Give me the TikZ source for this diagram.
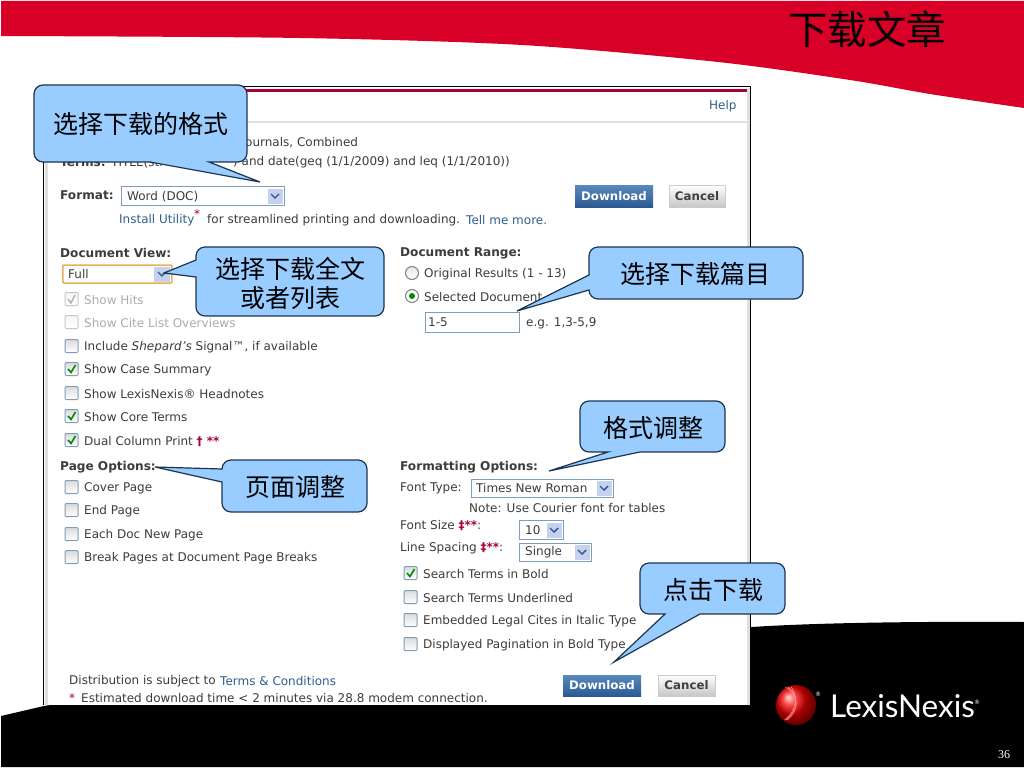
\documentclass[tikz,border=0pt]{standalone}
\usepackage{fontspec}
\setmainfont{DejaVu Sans}
\newfontfamily\cjk{Noto Sans CJK SC}
\newfontfamily\logofont{Lato}
\newfontfamily\numfont{Liberation Serif}
\definecolor{slidered}{HTML}{D80027}
\definecolor{calloutblue}{HTML}{99CCFF}
\definecolor{calloutline}{HTML}{1C3550}
\definecolor{webtext}{HTML}{3C3C3C}
\definecolor{weblink}{HTML}{2F5F8F}
\definecolor{webgrey}{HTML}{ABABAB}
\definecolor{webred}{HTML}{A80038}
\definecolor{boxline}{HTML}{7F9DB9}
\definecolor{viewline}{HTML}{E3B35C}
\definecolor{btntop}{HTML}{5A8ABB}
\definecolor{btnbot}{HTML}{2A5A92}
\definecolor{selfill}{HTML}{C4D2F0}
\definecolor{chevblue}{HTML}{34508C}
\tikzset{
  txt/.style={anchor=west,inner sep=0pt,yshift=-0.3pt,text=webtext,font=\fontsize{12}{14}\selectfont},
  boldtxt/.style={txt,font=\fontsize{12.1}{14}\selectfont\bfseries},
  linktxt/.style={txt,text=weblink},
  greytxt/.style={txt,text=webgrey},
  redtxt/.style={txt,text=webred},
  chkbox/.style={draw=boxline,line width=1pt,rounded corners=1pt,minimum size=13pt,inner sep=0pt,top color=black!14,bottom color=white},
  greybox/.style={chkbox,draw=black!22,top color=black!4,bottom color=white},
  tick/.style={draw=green!55!black,line width=1.6pt},
  selbox/.style={draw=boxline,fill=white,inner sep=0pt,line width=.8pt},
  selbtn/.style={fill=selfill,inner sep=0pt,minimum width=15pt,minimum height=15pt},
  chevron/.style={draw=chevblue,line width=1.4pt},
  callout/.style={draw=calloutline,fill=calloutblue,line width=1.2pt,line join=miter},
  calltxt/.style={align=center,inner sep=0pt,font=\cjk\fontsize{25}{29}\selectfont},
  bluebtn/.style={inner sep=0pt,top color=btntop,bottom color=btnbot,text=white,font=\fontsize{11.8}{13}\selectfont\bfseries},
  greybtn/.style={draw=black!20,inner sep=0pt,top color=white,bottom color=black!22,text=black!75,font=\fontsize{11.8}{13}\selectfont\bfseries}
}
\begin{document}
\begin{tikzpicture}[x=1pt,y=-1pt]
	\useasboundingbox (0,0) rectangle (1024,768);
	\fill[white] (0,0) rectangle (1024,768);
	% slide background
	\fill[slidered] (1,1) -- (1024,1) -- (1024,108) -- plot[smooth] coordinates {(1024,108) (930,94) (850,80) (718,62) (522,45) (300,38) (1,36)} -- cycle;
	\fill[black] (1,767) -- (1,716) -- (44,706) -- plot[smooth] coordinates {(44,706) (300,670) (752,627) (1024,622)} -- (1024,767) -- cycle;
	\node[inner sep=0pt,font=\cjk\fontsize{39.5}{41}\selectfont] (title) at (867,29) {下载文章};
	% screenshot
	\fill[white] (44,87) rectangle (750,705);
	\fill[black!12] (45,88) rectangle (48,705);
	\fill[black!12] (747,88) rectangle (750,705);
	\draw[line width=1.6pt] (43.5,705) -- (43.5,86.5) -- (750.5,86.5) -- (750.5,705);
	\fill[webred] (48,89) rectangle (747,91.5);
	\fill[black!12] (48,121) rectangle (747,123);
	\node[linktxt] (help) at (709,106) {Help};
	\node[txt] (source) at (245,142) {ournals, Combined};
	\node[boldtxt] (terms) at (60,162) {Terms:};
	\node[txt] (termsa) at (111,162) {TITLE(sti};
	\node[txt] (termsb) at (233,162) {) and date(geq (1/1/2009) and leq (1/1/2010))};
	% format row
	\node[boldtxt] (format) at (60,195) {Format:};
	\node[selbox,minimum width=163pt,minimum height=19pt,anchor=west] (formatbox) at (121,196) {};
	\node[txt] (formatval) at (127,196) {Word (DOC)};
	\node[selbtn] (formatbtn) at (275,196) {};
	\draw[chevron] (271,194) -- (275,198) -- (279,194);
	\node[bluebtn,minimum width=78pt,minimum height=22pt] (dltop) at (614,196) {Download};
	\node[greybtn,minimum width=56pt,minimum height=22pt] (canceltop) at (697,196) {Cancel};
	\node[linktxt] (install) at (119,220) {Install Utility};
	\node[redtxt] (star) at (194,214) {*};
	\node[txt] (stream) at (207,220) {for streamlined printing and downloading.};
	\node[linktxt] (tell) at (466,220) {Tell me more.};
	% left column
	\node[boldtxt] (docview) at (60,253) {Document View:};
	\node[draw=viewline,fill=white,line width=1.5pt,rounded corners=1pt,inner sep=0pt,minimum width=109pt,minimum height=18pt,anchor=west] (viewbox) at (62,274) {};
	\node[txt] (viewval) at (68,274) {Full};
	\node[selbtn,minimum width=16pt] (viewbtn) at (162,274) {};
	\draw[chevron] (158,272) -- (162,276) -- (166,272);
	\node[greybox] (hitsbox) at (71.5,299) {};
	\draw[draw=black!30,line width=1.4pt] (68,299) -- (71,303) -- (75,295);
	\node[greytxt] (hits) at (84,300) {Show Hits};
	\node[greybox] (citebox) at (71.5,322) {};
	\node[greytxt] (cite) at (84,323) {Show Cite List Overviews};
	\foreach \y/\name/\label in {
		347/shepard/{Include \textit{Shepard's} Signal™, if available},
		370/summary/{Show Case Summary},
		394/headnote/{Show LexisNexis® Headnotes},
		417/core/{Show Core Terms},
		441/dual/{Dual Column Print \textcolor{webred}{\bfseries† **}},
		488/cover/{Cover Page},
		511/endp/{End Page},
		535/eachdoc/{Each Doc New Page},
		558/breakp/{Break Pages at Document Page Breaks}}
	{
		\node[chkbox] (\name box) at (71.5,\y-1) {};
		\node[txt] (\name) at (84,\y) {\label};
	}
	\foreach \y in {369,416,440}
		\draw[tick] (68,\y) -- (71,\y+3.5) -- (75.5,\y-4);
	\node[boldtxt] (pageopts) at (60,467) {Page Options:};
	% right column
	\node[boldtxt] (docrange) at (400,253) {Document Range:};
	\node[circle,draw=black!45,line width=1.2pt,top color=black!10,bottom color=white,minimum size=13pt,inner sep=0pt] (radioa) at (412,273) {};
	\node[txt] (original) at (424,274) {Original Results (1 - 13)};
	\node[circle,draw=black!45,line width=1.2pt,fill=white,minimum size=13pt,inner sep=0pt] (radiob) at (412,296) {};
	\fill[green!55!black] (radiob) circle (3pt);
	\node[txt] (selected) at (424,297) {Selected Document};
	\node[selbox,minimum width=94pt,minimum height=20pt,anchor=west] (rangebox) at (425,322) {};
	\node[txt] (rangeval) at (428,322) {1-5};
	\node[txt] (example) at (526,323) {e.g. 1,3-5,9};
	\node[boldtxt] (fmtopts) at (400,467) {Formatting Options:};
	\node[txt] (fonttype) at (400,488) {Font Type:};
	\node[selbox,minimum width=142pt,minimum height=18pt,anchor=west] (typebox) at (471,488) {};
	\node[txt] (typeval) at (476,488) {Times New Roman};
	\node[selbtn] (typebtn) at (604,488) {};
	\draw[chevron] (600,486) -- (604,490) -- (608,486);
	\node[txt] (note) at (469,508) {Note: Use Courier font for tables};
	\node[txt] (fontsize) at (400,525) {Font Size \textcolor{webred}{\bfseries‡**}:};
	\node[selbox,minimum width=44pt,minimum height=19pt,anchor=west] (sizebox) at (519,530) {};
	\node[txt] (sizeval) at (525,530) {10};
	\node[selbtn] (sizebtn) at (554,530) {};
	\draw[chevron] (550,528) -- (554,532) -- (558,528);
	\node[txt] (spacing) at (400,548) {Line Spacing \textcolor{webred}{\bfseries‡**}:};
	\node[selbox,minimum width=72pt,minimum height=18pt,anchor=west] (spacebox) at (519,552) {};
	\node[txt] (spaceval) at (525,552) {Single};
	\node[selbtn] (spacebtn) at (582,552) {};
	\draw[chevron] (578,550) -- (582,554) -- (586,550);
	\foreach \y/\name/\label in {
		574/boldterms/{Search Terms in Bold},
		598/underline/{Search Terms Underlined},
		621/italic/{Embedded Legal Cites in Italic Type},
		645/pagination/{Displayed Pagination in Bold Type}}
	{
		\node[chkbox] (\name box) at (410.5,\y-1) {};
		\node[txt] (\name) at (423,\y) {\label};
	}
	\draw[tick] (407,573) -- (410,576.5) -- (414.5,569);
	% footer of the screenshot
	\node[txt] (distrib) at (69,681) {Distribution is subject to};
	\node[linktxt] (conditions) at (220,681) {Terms \& Conditions};
	\node[redtxt] (footstar) at (69,698) {*};
	\node[txt] (estimate) at (81,698) {Estimated download time < 2 minutes via 28.8 modem connection.};
	\node[bluebtn,minimum width=78pt,minimum height=21pt] (dlbottom) at (602,685.5) {Download};
	\node[greybtn,minimum width=57pt,minimum height=21pt] (cancelbottom) at (686.5,685.5) {Cancel};
	% logo
	\shade[ball color=red!95!black] (796,705) ellipse (20 and 20);
	\foreach \r in {8,13,18}
		\draw[white!60!red,line width=.5pt] (796-\r*.6,687) .. controls (796+\r*.2,695) and (796+\r*.2,710) .. (782+\r*.3,720);
	\node[inner sep=0pt,anchor=west,text=white,font=\logofont\fontsize{31.5}{33}\selectfont] (logo) at (830,706) {LexisNexis};
	\node[inner sep=0pt,text=white,font=\fontsize{6}{6}\selectfont] (logoa) at (818,694) {®};
	\node[inner sep=0pt,text=white,font=\fontsize{6}{6}\selectfont] (logob) at (977,702) {®};
	\node[inner sep=0pt,text=white,font=\numfont\fontsize{12}{12}\selectfont] (pagenum) at (1004,755) {36};
	% callouts
	\coordinate (tipformat) at (260,182);
	\coordinate (tipview) at (164,273);
	\coordinate (tiprange) at (517,311);
	\coordinate (tipfmt) at (549,471);
	\coordinate (tipdown) at (614,662);
	\coordinate (tippage) at (155,467);
	\draw[callout] (34,120) [rounded corners=9] -- (34,85) -- (247,85) -- (247,162) [sharp corners] -- (209,162) -- (tipformat) -- (150,162) [rounded corners=9] -- (34,162) -- (34,120) -- cycle;
	\draw[callout] (196,260) [rounded corners=9] -- (196,247) -- (384,247) -- (384,316) -- (196,316) [sharp corners] -- (196,277) -- (tipview) -- cycle;
	\draw[callout] (589,275) [rounded corners=9] -- (589,247) -- (803,247) -- (803,299) -- (589,299) [sharp corners] -- (589,290) -- (tiprange) -- cycle;
	\draw[callout] (680,452) [rounded corners=9] -- (725,452) -- (725,401) -- (580,401) -- (580,452) [sharp corners] -- (608,452) -- (tipfmt) -- (640,452) -- cycle;
	\draw[callout] (740,614) [rounded corners=9] -- (785,614) -- (785,563) -- (640,563) -- (640,614) [sharp corners] -- (665,614) -- (tipdown) -- (700,614) -- cycle;
	\draw[callout] (222,482) [rounded corners=9] -- (222,512) -- (367,512) -- (367,460) -- (222,460) [sharp corners] -- (222,469) -- (tippage) -- cycle;
	\node[calltxt] (formatcall) at (141,124) {选择下载的格式};
	\node[calltxt] (viewcall) at (290,283) {选择下载全文\\或者列表};
	\node[calltxt] (rangecall) at (695,274) {选择下载篇目};
	\node[calltxt] (fmtcall) at (653,428) {格式调整};
	\node[calltxt] (downcall) at (713,590) {点击下载};
	\node[calltxt] (pagecall) at (295,487) {页面调整};
\end{tikzpicture}
\end{document}
